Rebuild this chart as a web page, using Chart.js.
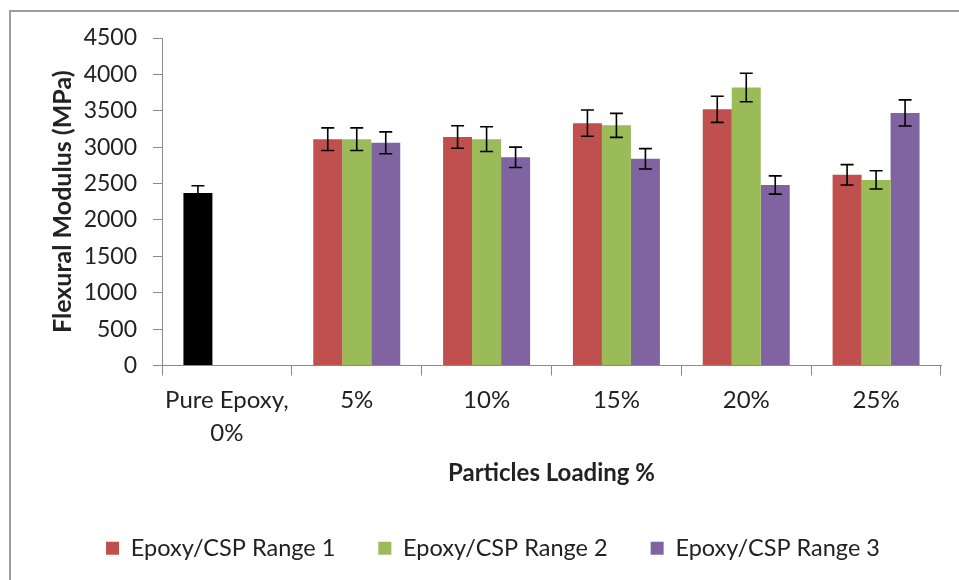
<!DOCTYPE html>
<html>
<head>
<meta charset="utf-8">
<script src="https://cdn.jsdelivr.net/npm/chart.js@4.4.1/dist/chart.umd.min.js"></script>
<style>
  html, body { margin: 0; padding: 0; background: #fff; overflow: hidden; }
  #wrap { position: relative; width: 959px; height: 580px; }
  #frame { position: absolute; left: 9px; top: 10px; width: 1000px; height: 700px; border: 2px solid #9d9d9d; box-sizing: border-box; pointer-events: none; }
  canvas { position: absolute; left: 0; top: 0; }
</style>
</head>
<body>
<div id="wrap">
  <canvas id="chart" width="959" height="580"></canvas>
  <div id="frame"></div>
</div>
<script>
const categories = [['Pure Epoxy,', '0%'], '5%', '10%', '15%', '20%', '25%'];
const range1 = [2370, 3110, 3140, 3330, 3520, 2620];
const range2 = [null, 3110, 3110, 3300, 3820, 2550];
const range3 = [null, 3060, 2860, 2840, 2480, 3470];
const err1 = [100, 155, 155, 180, 180, 140];
const err2 = [null, 155, 170, 165, 195, 125];
const err3 = [null, 150, 140, 140, 125, 180];
const yMax = 4500;
const yStep = 500;

const seriesColors = ['#C0504D', '#9BBB59', '#8064A2'];
const pureColor = '#000000';
const FONT = 'Lato, "Open Sans", sans-serif';
const TEXT = '#222';
const AXIS = '#8a8a8a';

// draws the +/- error bars on top of each bar
const errorBars = {
    id: 'errorBars',
    afterDatasetsDraw(chart) {
        const ctx = chart.ctx;
        const y = chart.scales.y;
        chart.data.datasets.forEach((ds, i) => {
            const meta = chart.getDatasetMeta(i);
            meta.data.forEach((bar, j) => {
                const v = ds.data[j], e = ds.errors[j];
                if (v == null || e == null) return;
                const top = y.getPixelForValue(v + e);
                const bot = y.getPixelForValue(v - e);
                ctx.save();
                ctx.strokeStyle = '#000';
                ctx.lineWidth = 1.6;
                ctx.beginPath();
                ctx.moveTo(bar.x, top); ctx.lineTo(bar.x, bot);
                ctx.moveTo(bar.x - 6.5, top); ctx.lineTo(bar.x + 6.5, top);
                ctx.moveTo(bar.x - 6.5, bot); ctx.lineTo(bar.x + 6.5, bot);
                ctx.stroke();
                ctx.restore();
            });
        });
    }
};

new Chart(document.getElementById('chart'), {
    type: 'bar',
    data: {
        labels: categories,
        datasets: [
            {
                label: 'Epoxy/CSP Range 1',
                data: range1,
                errors: err1,
                backgroundColor: c => c.dataIndex === 0 ? pureColor : seriesColors[0],
            },
            {
                label: 'Epoxy/CSP Range 2',
                data: range2,
                errors: err2,
                backgroundColor: seriesColors[1],
            },
            {
                label: 'Epoxy/CSP Range 3',
                data: range3,
                errors: err3,
                backgroundColor: seriesColors[2],
            },
        ]
    },
    options: {
        responsive: false,
        animation: false,
        datasets: { bar: { categoryPercentage: 0.67, barPercentage: 1.0 } },
        layout: { padding: { left: 45, right: 18, top: 38, bottom: 10 } },
        plugins: {
            tooltip: { enabled: false },
            legend: {
                position: 'bottom',
                labels: {
                    boxWidth: 13,
                    boxHeight: 13,
                    padding: 43,
                    color: TEXT,
                    font: { family: FONT, size: 23.5 },
                    generateLabels: chart => {
                        const items = Chart.defaults.plugins.legend.labels.generateLabels(chart);
                        items.forEach((it, i) => { it.fillStyle = seriesColors[i]; it.strokeStyle = seriesColors[i]; });
                        return items;
                    }
                }
            }
        },
        scales: {
            x: {
                afterFit: s => { s.height = 128; },
                grid: { drawOnChartArea: false, tickLength: 10, color: AXIS },
                border: { color: AXIS },
                ticks: {
                    color: TEXT,
                    padding: 8,
                    autoSkip: false,
                    maxRotation: 0,
                    font: { family: FONT, size: 24, lineHeight: 1.375 }
                },
                title: {
                    display: true,
                    text: 'Particles Loading %',
                    color: TEXT,
                    padding: { top: 0, bottom: 6 },
                    font: { family: FONT, size: 24, weight: 'bold' }
                }
            },
            y: {
                min: 0,
                max: yMax,
                afterFit: s => { s.width = 117; },
                grid: { drawOnChartArea: false, tickLength: 9, color: AXIS },
                border: { color: AXIS },
                ticks: {
                    stepSize: yStep,
                    color: TEXT,
                    padding: 16,
                    font: { family: FONT, size: 23 },
                    callback: v => String(v)
                },
                title: {
                    display: true,
                    text: 'Flexural Modulus (MPa)',
                    color: TEXT,
                    padding: { top: 3, bottom: 0 },
                    font: { family: FONT, size: 25, weight: 'bold' }
                }
            }
        }
    },
    plugins: [errorBars]
});
</script>
</body>
</html>
